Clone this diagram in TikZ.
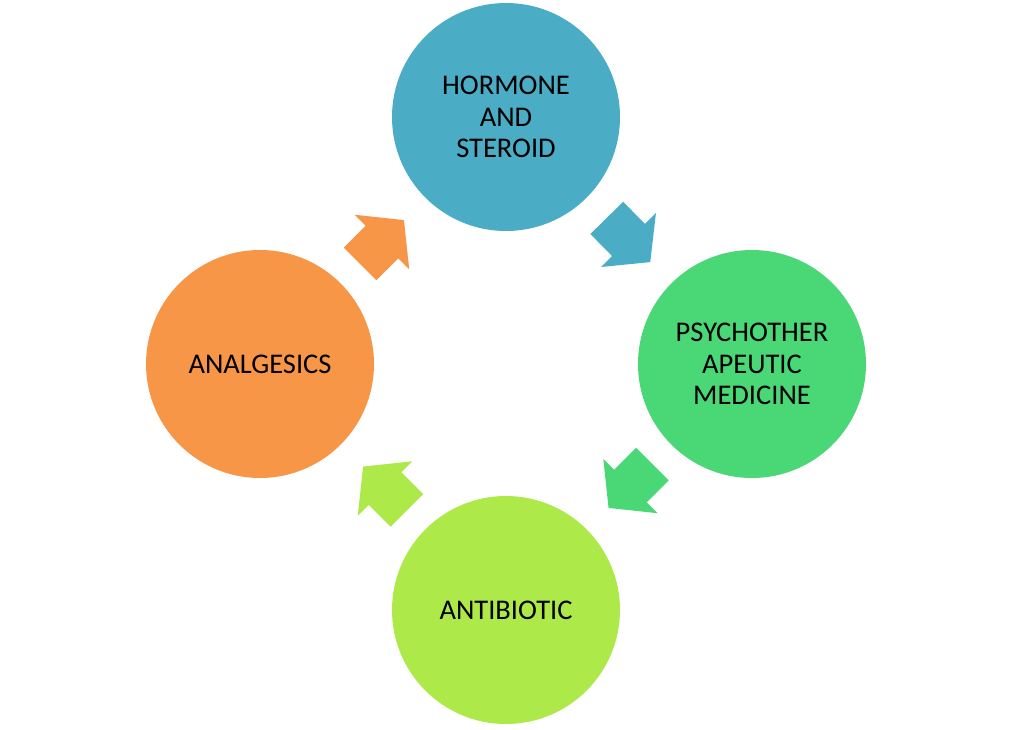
\documentclass[tikz,border=0pt]{standalone}
\usepackage{fontspec}
\setmainfont{Carlito}
\definecolor{cblue}{HTML}{4BACC6}
\definecolor{cgreen}{HTML}{4AD775}
\definecolor{clime}{HTML}{AEE94A}
\definecolor{corange}{HTML}{F79646}
\begin{document}
\begin{tikzpicture}[x=1pt,y=-1pt,
  bubble/.style={circle,minimum size=228pt,inner sep=0pt,align=center,text=black,
    font=\fontsize{28.5}{31.5}\selectfont},
  blockarrow/.pic={
    \fill[pic actions] (-31,-23) -- (0,-23) -- (0,-38.5) -- (31,0) -- (0,38.5) -- (0,23) -- (-31,23) -- cycle;
  }]
\useasboundingbox (0,0) rectangle (1012,729);
\node[bubble,fill=cblue] (hormone) at (506,117) {HORMONE\\AND\\STEROID};
\node[bubble,fill=cgreen] (psycho) at (752,364) {PSYCHOTHER\\APEUTIC\\MEDICINE};
\node[bubble,fill=clime] (anti) at (506,610) {ANTIBIOTIC};
\node[bubble,fill=corange] (anal) at (260,364) {ANALGESICS};
\pic[fill=cblue,rotate=-45.5] (a1) at (628.5,240) {blockarrow};
\pic[fill=cgreen,rotate=-135] (a2) at (630.5,486) {blockarrow};
\pic[fill=clime,rotate=135] (a3) at (385,488.5) {blockarrow};
\pic[fill=corange,rotate=45] (a4) at (382,242) {blockarrow};
\end{tikzpicture}
\end{document}
